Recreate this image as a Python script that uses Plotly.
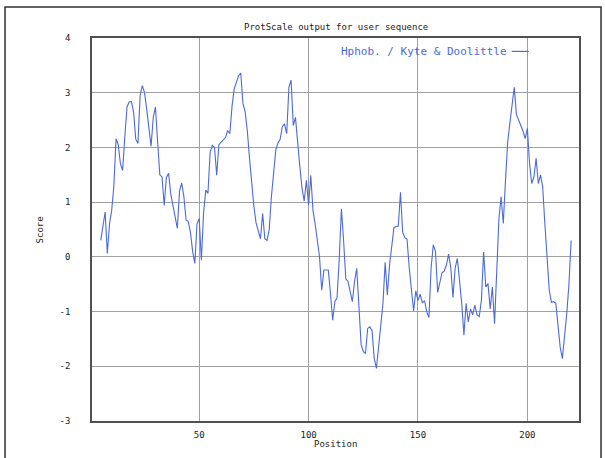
import plotly.graph_objects as go

# Position (window centre) and Kyte & Doolittle hydropathy score
positions = list(range(5, 221))
scores = [
    0.30, 0.60, 0.82, 0.06, 0.60, 0.85, 1.30, 2.16, 2.05, 1.70,   # 5-14
    1.58, 2.20, 2.74, 2.83, 2.84, 2.65, 2.15, 2.07, 2.95, 3.13,   # 15-24
    3.00, 2.70, 2.35, 2.02, 2.55, 2.74, 2.10, 1.50, 1.46, 0.94,   # 25-34
    1.45, 1.53, 1.15, 0.95, 0.73, 0.52, 1.20, 1.35, 1.10, 0.67,   # 35-44
    0.65, 0.45, 0.10, -0.12, 0.60, 0.70, -0.06, 0.80, 1.22, 1.16, # 45-54
    1.91, 2.04, 2.00, 1.49, 2.05, 2.10, 2.13, 2.18, 2.31, 2.25,   # 55-64
    2.75, 3.07, 3.19, 3.31, 3.36, 2.80, 2.65, 2.30, 1.80, 1.30,   # 65-74
    0.92, 0.62, 0.45, 0.33, 0.79, 0.33, 0.30, 0.50, 1.10, 1.60,   # 75-84
    1.95, 2.08, 2.15, 2.38, 2.43, 2.25, 3.10, 3.23, 2.40, 2.55,   # 85-94
    2.05, 1.65, 1.25, 1.02, 1.40, 0.95, 1.49, 0.85, 0.60, 0.24,   # 95-104
    0.00, -0.61, -0.24, -0.24, -0.24, -0.67, -1.16, -0.82, -0.75, -0.05,  # 105-114
    0.88, 0.30, -0.40, -0.45, -0.61, -0.82, -0.45, -0.21, -0.90, -1.60,   # 115-124
    -1.73, -1.77, -1.31, -1.28, -1.35, -1.85, -2.04, -1.65, -1.28, -0.85, # 125-134
    -0.10, -0.70, -0.15, 0.20, 0.53, 0.56, 0.56, 1.18, 0.45, 0.35,        # 135-144
    0.32, -0.20, -0.60, -0.99, -0.62, -0.80, -0.68, -0.84, -0.80, -1.00,  # 145-154
    -1.11, -0.20, 0.22, 0.10, -0.65, -0.45, -0.29, -0.26, -0.15, 0.05,    # 155-164
    -0.20, -0.74, -0.20, -0.03, -0.40, -0.85, -1.43, -0.85, -1.19, -0.95, # 165-174
    -1.06, -0.88, -1.06, -1.09, -0.79, 0.09, -0.55, -0.49, -0.95, -0.55,  # 175-184
    -1.22, -0.30, 0.70, 1.10, 0.61, 1.40, 2.10, 2.44, 2.74, 3.10,         # 185-194
    2.60, 2.48, 2.40, 2.30, 2.16, 2.35, 1.70, 1.34, 1.46, 1.80,           # 195-204
    1.34, 1.50, 1.28, 0.60, -0.10, -0.61, -0.83, -0.82, -0.85, -1.28,     # 205-214
    -1.65, -1.86, -1.50, -1.04, -0.50, 0.30,                              # 215-220
]

x_ticks = [50, 100, 150, 200]
x_tick_labels = ["50", "100", "150", "200"]
y_ticks = [-3, -2, -1, 0, 1, 2, 3, 4]
y_tick_labels = ["-3", "-2", "-1", "0", "1", "2", "3", "4"]

title_text = "ProtScale output for user sequence"
series_name = "Hphob. / Kyte & Doolittle"
x_title = "Position"
y_title = "Score"

FONT = "DejaVu Sans Mono"
LINE_COLOR = "#4d6ad8"

fig = go.Figure()
fig.add_trace(go.Scatter(
    x=positions, y=scores, mode="lines", name=series_name,
    line=dict(color=LINE_COLOR, width=1.1), showlegend=False,
))

fig.update_layout(
    width=605, height=458,
    margin=dict(l=92, r=26, t=38, b=37),
    paper_bgcolor="white", plot_bgcolor="white",
    font=dict(family=FONT, size=9, color="#222222"),
    xaxis=dict(
        range=[1, 223.6], tickvals=x_ticks, ticktext=x_tick_labels,
        showgrid=True, gridcolor="#a0a0a0", gridwidth=1.4,
        showline=True, linecolor="#505050", linewidth=1.5, mirror=True,
        ticks="", ticklabelstandoff=4, zeroline=False,
        tickfont=dict(family=FONT, size=9),
    ),
    yaxis=dict(
        range=[-3, 4], tickvals=y_ticks, ticktext=y_tick_labels,
        showgrid=True, gridcolor="#a0a0a0", gridwidth=1.4,
        showline=True, linecolor="#505050", linewidth=1.5, mirror=True,
        ticks="", ticklabelstandoff=18, zeroline=False,
        tickfont=dict(family=FONT, size=9),
    ),
    annotations=[
        dict(text=title_text, xref="paper", yref="paper", x=0.5, y=1.0,
             yshift=11, showarrow=False, xanchor="center", yanchor="middle",
             font=dict(family=FONT, size=9, color="#222222")),
        dict(text=series_name, xref="paper", yref="paper", x=0.857, y=0.965,
             showarrow=False, xanchor="right", yanchor="middle",
             font=dict(family=FONT, size=11, color=LINE_COLOR)),
        dict(text=x_title, xref="paper", yref="paper", x=0.5, y=-0.059,
             showarrow=False, xanchor="center", yanchor="middle",
             font=dict(family=FONT, size=9, color="#222222")),
        dict(text=y_title, xref="paper", yref="paper", x=-0.107, y=0.5,
             textangle=-90, showarrow=False, xanchor="center", yanchor="middle",
             font=dict(family=FONT, size=9, color="#222222")),
    ],
    shapes=[
        dict(type="line", xref="paper", yref="paper", x0=0.862, x1=0.897,
             y0=0.965, y1=0.965, line=dict(color=LINE_COLOR, width=1.2)),
        dict(type="rect", xref="paper", yref="paper", x0=-0.1786, x1=1.0452,
             y0=-0.11, y1=1.081, line=dict(color="#303030", width=1.5),
             layer="below"),
    ],
)

fig.write_html("out.html", config={"displayModeBar": False},
               post_script="document.body.style.margin='0';document.body.style.padding='0';")
